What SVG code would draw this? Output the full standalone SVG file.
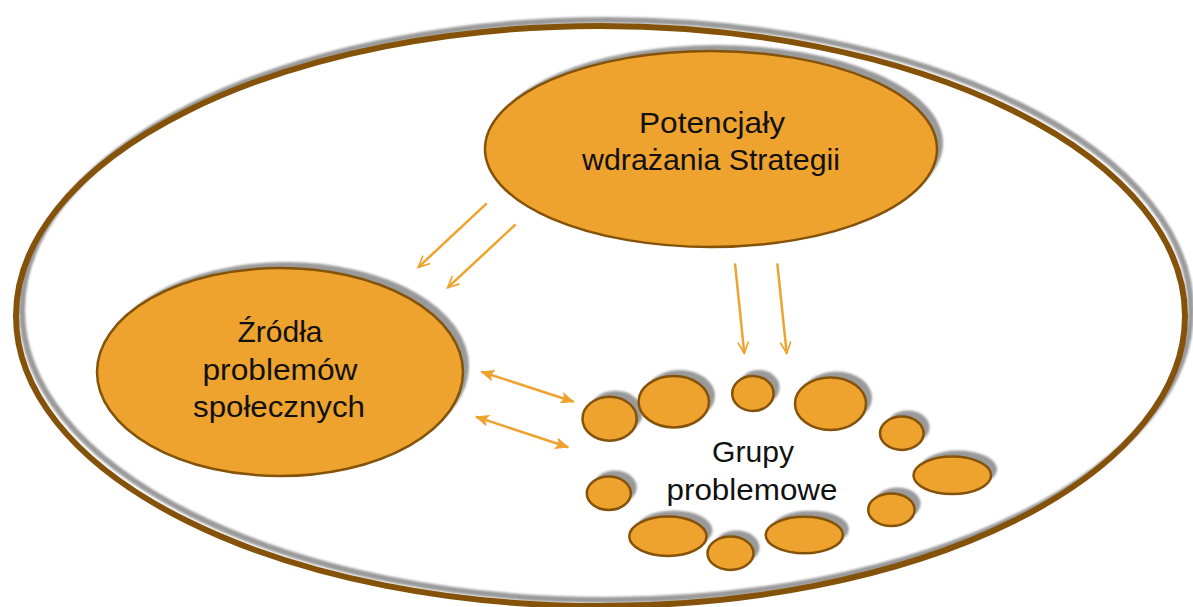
<svg xmlns="http://www.w3.org/2000/svg" width="1193" height="607" viewBox="0 0 1193 607">
<style>
.sh{fill:#9a9a9a;stroke:none;filter:url(#blur)}
.shs{fill:none;stroke:#9a9a9a;stroke-width:6;filter:url(#blur)}
.node{fill:#EFA32F;stroke:#845208;stroke-width:2.5}
.big{fill:none;stroke:#845208;stroke-width:6}
.lbl{font-family:"Liberation Sans",Arial,sans-serif;font-size:29px;fill:#111;text-anchor:middle}
.arr{stroke:#EFA32F;stroke-width:2.5;fill:none}
</style>
<defs>
<filter id="blur" x="-10%" y="-10%" width="120%" height="120%"><feGaussianBlur stdDeviation="0.8"/></filter>
<marker id="open" viewBox="0 0 12 12" refX="11" refY="6" markerWidth="8" markerHeight="8" markerUnits="userSpaceOnUse" orient="auto" overflow="visible">
<path d="M-6,-2 L11,6 L-6,14" fill="none" stroke="#EFA32F" stroke-width="2.5"/>
</marker>
<marker id="solidE" viewBox="0 0 14 12" refX="13" refY="6" markerWidth="14" markerHeight="12" markerUnits="userSpaceOnUse" orient="auto">
<path d="M0,0 L14,6 L0,12 L3,6 Z" fill="#EFA32F"/>
</marker>
<marker id="solidS" viewBox="0 0 14 12" refX="1" refY="6" markerWidth="14" markerHeight="12" markerUnits="userSpaceOnUse" orient="auto">
<path d="M14,0 L0,6 L14,12 L11,6 Z" fill="#EFA32F"/>
</marker>
</defs>
<rect width="1193" height="607" fill="#fff"/>
<g id="outer">
<ellipse class="shs" cx="606.5" cy="310" rx="584.5" ry="290"/>
<ellipse class="big" cx="600.5" cy="316" rx="584.5" ry="290"/>
</g>
<g id="potencjaly">
<ellipse class="sh" cx="717" cy="143" rx="226" ry="98"/>
<ellipse class="node" cx="711" cy="149" rx="226" ry="98"/>
<text class="lbl" x="712" y="133" textLength="146" lengthAdjust="spacingAndGlyphs">Potencjały</text>
<text class="lbl" x="711" y="170" textLength="258" lengthAdjust="spacingAndGlyphs">wdrażania Strategii</text>
</g>
<g id="zrodla">
<ellipse class="sh" cx="286" cy="366" rx="183" ry="104"/>
<ellipse class="node" cx="280" cy="372" rx="183" ry="104"/>
<text class="lbl" x="280" y="342" textLength="85" lengthAdjust="spacingAndGlyphs">Źródła</text>
<text class="lbl" x="280" y="380" textLength="155" lengthAdjust="spacingAndGlyphs">problemów</text>
<text class="lbl" x="279" y="417" textLength="172" lengthAdjust="spacingAndGlyphs">społecznych</text>
</g>
<g id="grupy">
<g transform="translate(6,-6)">
<ellipse class="sh" cx="609.6" cy="418.7" rx="27.1" ry="22"/>
<ellipse class="sh" cx="673.8" cy="401.7" rx="35.2" ry="25.7"/>
<ellipse class="sh" cx="752.9" cy="393.5" rx="20.7" ry="17.5"/>
<ellipse class="sh" cx="830.5" cy="403.7" rx="35.5" ry="26.3"/>
<ellipse class="sh" cx="901.8" cy="433.3" rx="21.8" ry="16.7"/>
<ellipse class="sh" cx="952.3" cy="475.3" rx="38.8" ry="18.7"/>
<ellipse class="sh" cx="891.4" cy="509.7" rx="23.2" ry="16.3"/>
<ellipse class="sh" cx="804.3" cy="535" rx="38.6" ry="18.3"/>
<ellipse class="sh" cx="730.5" cy="553.3" rx="23" ry="16.7"/>
<ellipse class="sh" cx="667.9" cy="536.3" rx="38.6" ry="19.7"/>
<ellipse class="sh" cx="608.8" cy="493.3" rx="22" ry="16.7"/>
</g>
<ellipse class="node" cx="609.6" cy="418.7" rx="27.1" ry="22"/>
<ellipse class="node" cx="673.8" cy="401.7" rx="35.2" ry="25.7"/>
<ellipse class="node" cx="752.9" cy="393.5" rx="20.7" ry="17.5"/>
<ellipse class="node" cx="830.5" cy="403.7" rx="35.5" ry="26.3"/>
<ellipse class="node" cx="901.8" cy="433.3" rx="21.8" ry="16.7"/>
<ellipse class="node" cx="952.3" cy="475.3" rx="38.8" ry="18.7"/>
<ellipse class="node" cx="891.4" cy="509.7" rx="23.2" ry="16.3"/>
<ellipse class="node" cx="804.3" cy="535" rx="38.6" ry="18.3"/>
<ellipse class="node" cx="730.5" cy="553.3" rx="23" ry="16.7"/>
<ellipse class="node" cx="667.9" cy="536.3" rx="38.6" ry="19.7"/>
<ellipse class="node" cx="608.8" cy="493.3" rx="22" ry="16.7"/>
<text class="lbl" x="753" y="462" textLength="82" lengthAdjust="spacingAndGlyphs">Grupy</text>
<text class="lbl" x="752" y="500" textLength="171" lengthAdjust="spacingAndGlyphs">problemowe</text>
</g>
<g id="connectors">
<line class="arr" x1="486.7" y1="203.3" x2="418.3" y2="267.3" marker-end="url(#open)"/>
<line class="arr" x1="515.7" y1="224.3" x2="447.7" y2="287.7" marker-end="url(#open)"/>
<line class="arr" x1="735" y1="263.3" x2="744.3" y2="353.3" marker-end="url(#open)"/>
<line class="arr" x1="777.3" y1="263.3" x2="786.7" y2="353.3" marker-end="url(#open)"/>
<line class="arr" x1="481.4" y1="371.7" x2="573.6" y2="401.7" marker-start="url(#solidS)" marker-end="url(#solidE)"/>
<line class="arr" x1="476" y1="416.7" x2="568.2" y2="447.3" marker-start="url(#solidS)" marker-end="url(#solidE)"/>
</g>
</svg>
